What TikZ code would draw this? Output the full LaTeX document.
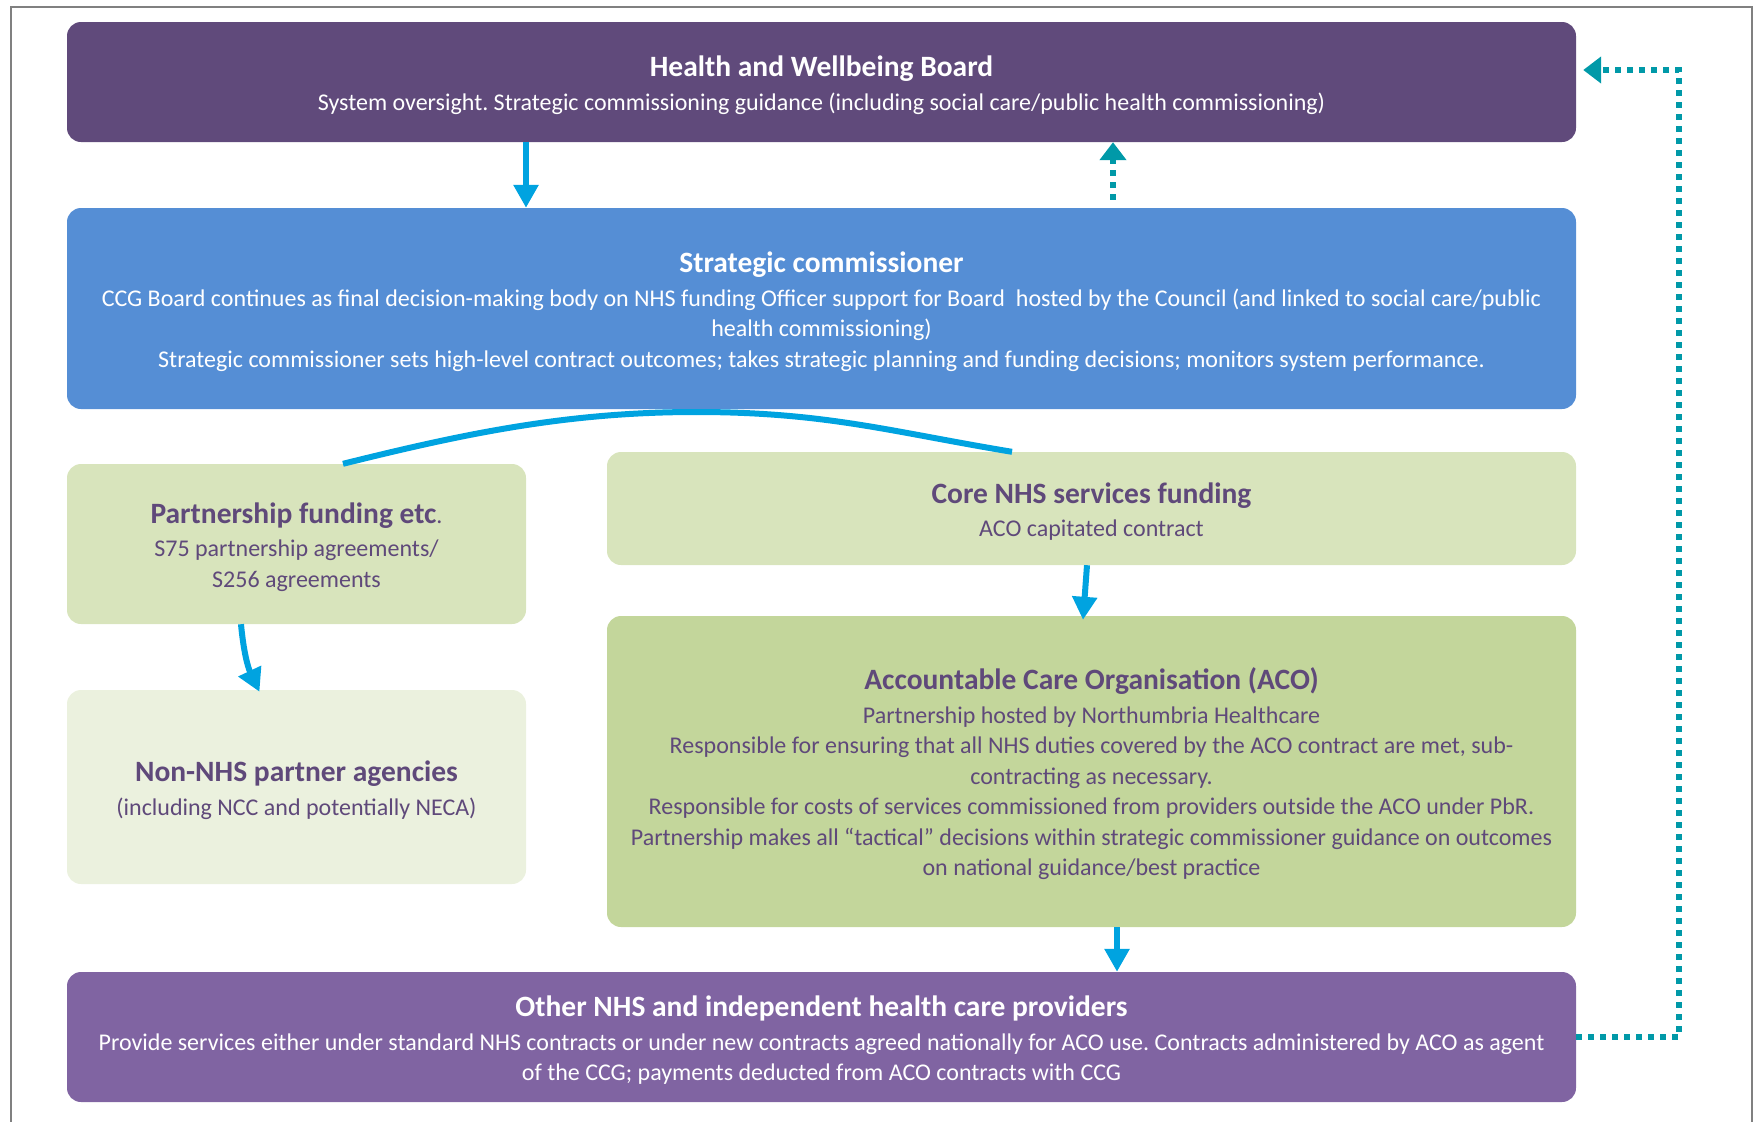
\documentclass[tikz,border=0pt]{standalone}
\usepackage{fontspec}
\setmainfont{Carlito}
\usepackage{tikz}
\usetikzlibrary{arrows.meta}
\usetikzlibrary{positioning}
\frenchspacing
\definecolor{hwbpurple}{RGB}{96,74,123}
\definecolor{stratblue}{RGB}{85,142,213}
\definecolor{palegreen}{RGB}{216,228,188}
\definecolor{lightgreen}{RGB}{235,241,222}
\definecolor{midgreen}{RGB}{195,214,155}
\definecolor{otherpurple}{RGB}{128,100,162}
\definecolor{textpurple}{RGB}{95,73,122}
\definecolor{arrowblue}{RGB}{0,163,224}
\definecolor{dotteal}{RGB}{0,153,168}
\definecolor{framegray}{RGB}{128,128,128}
\newcommand{\boxtitle}[1]{{\fontsize{29.5}{30}\selectfont\bfseries\rule{0pt}{27pt}#1}}
\tikzset{panel/.style = {rounded corners=14pt, inner sep=0, align=center,
                         font=\fontsize{24}{30.5}\selectfont}}
\tikzset{feed/.style = {draw=arrowblue, line width=6pt,
                        -{Triangle[length=23pt, width=24pt]}}}
\tikzset{backline/.style = {draw=dotteal, line width=5.5pt, dash pattern=on 5.5pt off 6.5pt,
                            -{Triangle[length=18pt, width=26pt]}}}

\begin{document}
\begin{tikzpicture}[x=1pt, y=-1pt]
      \useasboundingbox (0, 0) rectangle (1754, 1122);
      \draw [framegray, line width=2pt] (11, 1122) -- (11, 7) -- (1752, 7) -- (1752, 1122);
      \node [panel, fill=hwbpurple, text=white, minimum width=1509, minimum height=120] (hwb) at (821.5, 82)
        {\boxtitle{Health and Wellbeing Board}\\[3pt]
         System oversight. Strategic commissioning guidance (including social care/public health commissioning)};
      \node [panel, fill=stratblue, text=white, minimum width=1509, minimum height=201] (strat) at (821.5, 308.5)
        {\boxtitle{Strategic commissioner}\\[3pt]
         CCG Board continues as final decision-making body on NHS funding Officer support for Board \ hosted by the Council (and linked to social care/public\\
         health commissioning)\\
         Strategic commissioner sets high-level contract outcomes; takes strategic planning and funding decisions; monitors system performance.};
      \node [panel, fill=palegreen, text=textpurple, minimum width=459, minimum height=160] (part) at (296.5, 544)
        {\boxtitle{Partnership funding etc}.\\[3pt]
         S75 partnership agreements/\\
         S256 agreements};
      \node [panel, fill=palegreen, text=textpurple, minimum width=969, minimum height=113] (core) at (1091.5, 508.5)
        {\boxtitle{Core NHS services funding}\\[3pt]
         ACO capitated contract};
      \node [panel, fill=lightgreen, text=textpurple, minimum width=459, minimum height=194] (nonnhs) at (296.5, 787)
        {\boxtitle{Non-NHS partner agencies}\\[3pt]
         (including NCC and potentially NECA)};
      \node [panel, fill=midgreen, text=textpurple, minimum width=969, minimum height=311] (aco) at (1091.5, 771.5)
        {\boxtitle{Accountable Care Organisation (ACO)}\\[3pt]
         Partnership hosted by Northumbria Healthcare\\
         Responsible for ensuring that all NHS duties covered by the ACO contract are met, sub-\\
         contracting as necessary.\\
         Responsible for costs of services commissioned from providers outside the ACO under PbR.\\
         Partnership makes all “tactical” decisions within strategic commissioner guidance on outcomes\\
         on national guidance/best practice};
      \node [panel, fill=otherpurple, text=white, minimum width=1509, minimum height=130] (other) at (821.5, 1037)
        {\boxtitle{Other NHS and independent health care providers}\\[3pt]
         Provide services either under standard NHS contracts or under new contracts agreed nationally for ACO use. Contracts administered by ACO as agent\\
         of the CCG; payments deducted from ACO contracts with CCG};
      % funding flows
      \draw [feed] ([xshift=-295.5]hwb.south) -- ([xshift=-295.5]strat.north);
      \draw [feed] ([xshift=-4.5]core.south) -- ([xshift=-8.5, yshift=-4]aco.north);
      \draw [feed] ([xshift=25.5]aco.south) -- ([xshift=25.5]aco.south |- other.north);
      \draw [feed] ([xshift=-55.5]part.south) to [bend right=10] ([xshift=-37, yshift=-2]nonnhs.north);
      \coordinate (apex) at (696, 412);
      \draw [arrowblue, line width=6pt] ([xshift=46.5]part.north) .. controls (463, 434) and (566, 412) .. (apex);
      \draw [arrowblue, line width=6pt] (apex) .. controls (826, 412) and (892, 432) .. ([xshift=-79.5]core.north);
      % reporting back
      \draw [backline, shorten <=8pt] ([xshift=291.5]strat.north) -- ([xshift=291.5]hwb.south);
      \coordinate (ret) at (1679, 70);
      \draw [backline, shorten >=7pt] (other.east) -| (ret) -- (hwb.east |- ret);
    \end{tikzpicture}
\end{document}
